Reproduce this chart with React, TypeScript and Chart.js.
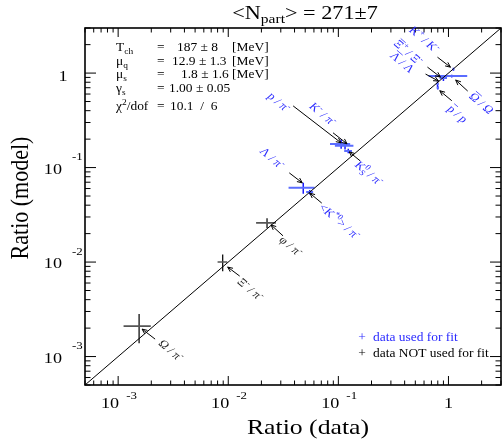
import React, { useEffect, useRef } from 'react';
import { Chart, registerables } from 'chart.js';
Chart.register(...registerables);

// ---------------- data ----------------
const ratioLabels = [
  'Ω / π^{-}', 'Ξ^{-} / π^{-}', 'φ / π^{-}', 'Λ / π^{-}', '<K^{*0}> / π^{-}',
  'p / π^{-}', 'K^{-} / π^{-}', 'K^{0}_{S} / π^{-}', 'K^{+} / K^{-}',
  '~{Ξ}^{+} / Ξ^{-}', '~{Λ} / Λ', '~{Ω} / Ω', '~{p} / p',
];
const dataValues = [0.00155, 0.0089, 0.0225, 0.048, 0.055, 0.106, 0.115, 0.123, 1.11, 0.9, 0.796, 1.07, 0.8];
const dataErrors = [0.00043, 0.0009, 0.0046, 0.0127, 0.004, 0.022, 0.022, 0.01, 0.02, 0.07, 0.02, 0.41, 0.02];
const modelValues = [0.0021, 0.01, 0.026, 0.061, 0.055, 0.178, 0.17, 0.15, 1.1, 0.885, 0.765, 0.93, 0.7];
const modelErrors = [0.00072, 0.002, 0.003, 0.008, 0.003, 0.02, 0.015, 0.008, 0.04, 0.06, 0.05, 0.03, 0.03];
const usedInFit = [false, false, false, true, true, true, true, true, true, true, true, true, true];

const axisMin = 5e-4;
const axisMax = 3;
const decadeTicks = [1e-3, 1e-2, 1e-1, 1];
const decadeExponents = ['-3', '-2', '-1', ''];

const paramNames = ['T_{ch}', 'μ_{q}', 'μ_{s}', 'γ_{s}'];
const paramValues = ['187', '12.9', '1.8', '1.00'];
const paramErrors = ['8', '1.3', '1.6', '0.05'];
const paramUnits = ['[MeV]', '[MeV]', '[MeV]', ''];
const chi2Value = '10.1';
const chi2Dof = '6';

const titleText = '<N_{part}> = 271±7';
const xTitle = 'Ratio (data)';
const yTitle = 'Ratio (model)';
const legendTexts = ['data used for fit', 'data NOT used for fit'];

// ---------------- layout (pixel offsets, styles) ----------------
const arrowHead = [[3, 3], [5, 5], [4, 2], [-1, -5], [0, 1], [0, -1], [2, -2], [1, 1], [-3, -2], [-3, -1], [1, -3], [4, 4], [2, 3]];
const arrowTail = [[16, 13], [17, 14], [16, 13], [-14, -15], [12, 11], [-48, -38], [-12, -13], [12, 10], [-16, -12], [-16, -11], [-12, -10], [16, 15], [14, 13]];
const labelPos = [[32, 24], [28, 27], [24, 23], [-31, -30], [30, 29], [-62, -42], [-22, -32], [21, 22], [-29, -30], [-35, -26], [-35, -22], [30, 27], [20, 26]];
const paramRowY = [47, 61, 74, 88];
const chi2RowY = 106;
const paramValueX = [177, 172, 181, 169];

const SERIF = '"Liberation Serif", "Times New Roman", serif';
const SX = 1.17;
const BLUE = '#1a1aff';
const BLUE_TEXT = '#2a2aff';
const BLACK = '#111';

type Seg = { t: string; k: 'n' | 'sup' | 'sub' | 'bar'; stack?: boolean };
function parseRich(s: string): Seg[] {
  const out: Seg[] = [];
  let i = 0;
  let buf = '';
  const flush = () => { if (buf) { out.push({ t: buf, k: 'n' }); buf = ''; } };
  while (i < s.length) {
    const c = s[i];
    if ((c === '^' || c === '_' || c === '~') && s[i + 1] === '{') {
      flush();
      const end = s.indexOf('}', i + 2);
      out.push({ t: s.slice(i + 2, end), k: c === '^' ? 'sup' : c === '_' ? 'sub' : 'bar' });
      i = end + 1;
    } else { buf += c; i++; }
  }
  flush();
  for (let j = 0; j < out.length - 1; j++) if (out[j].k === 'sup' && out[j + 1].k === 'sub') out[j].stack = true;
  return out;
}

function drawRich(ctx: CanvasRenderingContext2D, s: string, x: number, y: number,
  o: { size: number; color: string; align?: 'left' | 'center' | 'right'; rot?: number; sup?: number }) {
  const segs = parseRich(s);
  const fs = o.size;
  const ss = fs * (o.sup ?? 0.7);
  const fN = `${fs}px ${SERIF}`;
  const fS = `${ss}px ${SERIF}`;
  const widths = segs.map((g) => { ctx.font = g.k === 'sup' || g.k === 'sub' ? fS : fN; return ctx.measureText(g.t).width; });
  const adv = segs.map((g, j) => {
    if (g.stack) return 0;
    if (g.k === 'sub' && j > 0 && segs[j - 1].stack) return Math.max(widths[j], widths[j - 1]);
    return widths[j];
  });
  const total = adv.reduce((a, b) => a + b, 0);
  ctx.save();
  ctx.translate(x, y);
  ctx.scale(SX, 1);
  if (o.rot) ctx.rotate(o.rot);
  let cx = o.align === 'center' ? -total / 2 : o.align === 'right' ? -total : 0;
  ctx.fillStyle = o.color;
  ctx.strokeStyle = o.color;
  ctx.textAlign = 'left';
  ctx.textBaseline = 'alphabetic';
  const base = fs * 0.35;
  segs.forEach((g, j) => {
    if (g.k === 'sup') { ctx.font = fS; ctx.fillText(g.t, cx, base - fs * 0.42); }
    else if (g.k === 'sub') { ctx.font = fS; ctx.fillText(g.t, cx, base + fs * 0.24); }
    else {
      ctx.font = fN;
      ctx.fillText(g.t, cx, base);
      if (g.k === 'bar') {
        ctx.lineWidth = fs * 0.06;
        ctx.beginPath();
        ctx.moveTo(cx + 0.5, base - fs * 0.8);
        ctx.lineTo(cx + widths[j] - 0.5, base - fs * 0.8);
        ctx.stroke();
      }
    }
    cx += adv[j];
  });
  ctx.restore();
}

function seg(ctx: CanvasRenderingContext2D, x1: number, y1: number, x2: number, y2: number) {
  ctx.beginPath(); ctx.moveTo(x1, y1); ctx.lineTo(x2, y2); ctx.stroke();
}

function arrow(ctx: CanvasRenderingContext2D, x1: number, y1: number, x2: number, y2: number) {
  seg(ctx, x1, y1, x2, y2);
  const a = Math.atan2(y2 - y1, x2 - x1);
  const L = 5.5, w = 0.42;
  ctx.beginPath();
  ctx.moveTo(x2 - L * Math.cos(a - w), y2 - L * Math.sin(a - w));
  ctx.lineTo(x2, y2);
  ctx.lineTo(x2 - L * Math.cos(a + w), y2 - L * Math.sin(a + w));
  ctx.stroke();
}

function bars(horizontal: boolean, used: boolean) {
  const pts: { x: number | null; y: number | null }[] = [];
  dataValues.forEach((dv, i) => {
    if (usedInFit[i] !== used) return;
    if (horizontal) {
      pts.push({ x: dv - dataErrors[i], y: modelValues[i] }, { x: dv + dataErrors[i], y: modelValues[i] });
    } else {
      pts.push({ x: dv, y: modelValues[i] - modelErrors[i] }, { x: dv, y: modelValues[i] + modelErrors[i] });
    }
    pts.push({ x: null, y: null });
  });
  return pts;
}

const decorPlugin = {
  id: 'decor',
  afterDraw(chart: any) {
    const ctx: CanvasRenderingContext2D = chart.ctx;
    const xs = chart.scales.x, ys = chart.scales.y;
    const { left, right, top, bottom } = chart.chartArea;
    ctx.save();
    // ticks
    ctx.strokeStyle = '#000';
    ctx.lineWidth = 1;
    for (let e = -4; e <= 0; e++) {
      for (let m = 1; m <= 9; m++) {
        const v = m * Math.pow(10, e);
        if (v < axisMin * 0.999 || v > axisMax * 1.001) continue;
        const px = xs.getPixelForValue(v);
        const Lx = m === 1 ? 9 : 4.5;
        seg(ctx, px, bottom, px, bottom - Lx);
        seg(ctx, px, top, px, top + Lx);
        const py = ys.getPixelForValue(v);
        const Ly = m === 1 ? 11 : 5.5;
        seg(ctx, left, py, left + Ly, py);
        seg(ctx, right, py, right - Ly, py);
      }
    }
    // frame
    ctx.lineWidth = 1.6;
    ctx.strokeRect(left, top, right - left, bottom - top);

    // tick labels
    decadeTicks.forEach((v, i) => {
      const px = xs.getPixelForValue(v);
      const py = ys.getPixelForValue(v);
      if (decadeExponents[i]) {
        drawRich(ctx, '10', px + 1, bottom + 18, { size: 15.5, color: '#000', align: 'right' });
        drawRich(ctx, decadeExponents[i], px + 8, bottom + 10, { size: 11, color: '#000', align: 'left' });
        drawRich(ctx, '10', left - 23, py + 1, { size: 15.5, color: '#000', align: 'right' });
        drawRich(ctx, decadeExponents[i], left - 13, py - 11, { size: 11, color: '#000', align: 'left' });
      } else {
        drawRich(ctx, '1', px, bottom + 18, { size: 15.5, color: '#000', align: 'center' });
        drawRich(ctx, '1', left - 22, py + 2, { size: 15.5, color: '#000', align: 'center' });
      }
    });

    // titles
    drawRich(ctx, titleText, 305, 12, { size: 19, color: '#000', align: 'center' });
    drawRich(ctx, xTitle, 308, 426, { size: 22, color: '#000', align: 'center' });
    drawRich(ctx, yTitle, 19, 198, { size: 22, color: '#000', align: 'center', rot: -Math.PI / 2 });

    // parameter box
    paramNames.forEach((n, i) => {
      const y = paramRowY[i];
      drawRich(ctx, n, 116, y, { size: 11.5, color: '#000' });
      drawRich(ctx, '=', 157, y, { size: 11.5, color: '#000' });
      drawRich(ctx, `${paramValues[i]} ± ${paramErrors[i]}`, paramValueX[i], y, { size: 11.5, color: '#000' });
      if (paramUnits[i]) drawRich(ctx, paramUnits[i], 232, y, { size: 11.5, color: '#000' });
    });
    drawRich(ctx, 'χ^{2}/dof', 116, chi2RowY, { size: 11.5, color: '#000' });
    drawRich(ctx, '=', 157, chi2RowY, { size: 11.5, color: '#000' });
    drawRich(ctx, `${chi2Value}  /  ${chi2Dof}`, 170, chi2RowY, { size: 11.5, color: '#000' });

    // legend
    drawRich(ctx, '+', 362, 337, { size: 11.5, color: BLUE_TEXT, align: 'center' });
    drawRich(ctx, legendTexts[0], 373, 337, { size: 11.5, color: BLUE_TEXT });
    drawRich(ctx, '+', 362, 353, { size: 11.5, color: '#000', align: 'center' });
    drawRich(ctx, legendTexts[1], 373, 353, { size: 11.5, color: '#000' });

    // arrows + labels
    ratioLabels.forEach((lab, i) => {
      const px = xs.getPixelForValue(dataValues[i]);
      const py = ys.getPixelForValue(modelValues[i]);
      ctx.strokeStyle = '#000';
      ctx.lineWidth = 1;
      arrow(ctx, px + arrowTail[i][0], py + arrowTail[i][1], px + arrowHead[i][0], py + arrowHead[i][1]);
      drawRich(ctx, lab, px + labelPos[i][0], py + labelPos[i][1], {
        size: 11, color: usedInFit[i] ? BLUE_TEXT : '#222', align: 'center', rot: Math.PI / 4,
      });
    });
    ctx.restore();
  },
};

export default function App() {
  const ref = useRef<HTMLCanvasElement>(null);
  useEffect(() => {
    const chart = new Chart(ref.current as HTMLCanvasElement, {
      type: 'scatter',
      data: {
        datasets: [
          {
            data: [{ x: axisMin, y: axisMin }, { x: axisMax, y: axisMax }],
            showLine: true, borderColor: '#000', borderWidth: 1, pointRadius: 0,
          },
          { data: bars(true, false), showLine: true, borderColor: '#555', borderWidth: 1.6, pointRadius: 0, spanGaps: false },
          { data: bars(false, false), showLine: true, borderColor: BLACK, borderWidth: 1.3, pointRadius: 0, spanGaps: false },
          { data: bars(true, true), showLine: true, borderColor: '#5a6cff', borderWidth: 2, pointRadius: 0, spanGaps: false },
          { data: bars(false, true), showLine: true, borderColor: BLUE, borderWidth: 1.5, pointRadius: 0, spanGaps: false },
        ] as any,
      },
      options: {
        responsive: false,
        animation: false,
        devicePixelRatio: 1,
        layout: { padding: { left: 85, top: 28, right: 1, bottom: 56 } },
        plugins: { legend: { display: false }, tooltip: { enabled: false } },
        scales: {
          x: { type: 'logarithmic', min: axisMin, max: axisMax, display: false },
          y: { type: 'logarithmic', min: axisMin, max: axisMax, display: false },
        },
      },
      plugins: [decorPlugin],
    });
    return () => chart.destroy();
  }, []);
  return (
    <div style={{ position: 'absolute', left: 0, top: 0, width: 502, height: 441, background: '#fff' }}>
      <canvas ref={ref} width={502} height={441} style={{ display: 'block', width: 502, height: 441 }} />
    </div>
  );
}
